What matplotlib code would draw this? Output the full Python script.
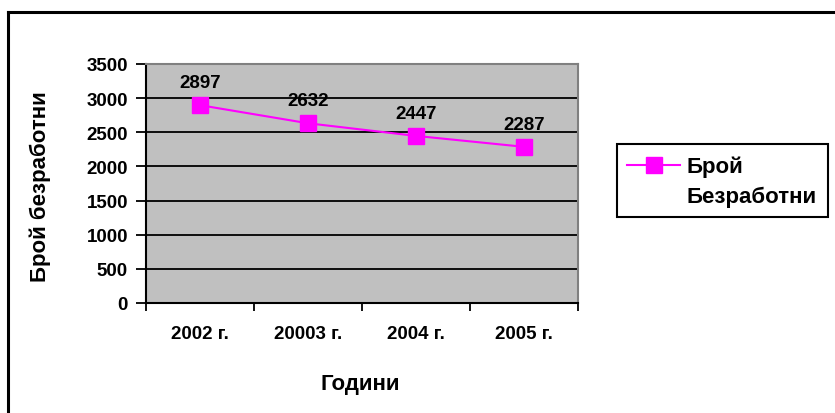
import matplotlib
matplotlib.use("Agg")
import matplotlib.pyplot as plt
from matplotlib.lines import Line2D
from matplotlib.patches import Rectangle

plt.rcParams['font.family'] = ['Liberation Sans', 'DejaVu Sans']

categories = ["2002 г.", "20003 г.", "2004 г.", "2005 г."]
values = [2897, 2632, 2447, 2287]
yticks = [0, 500, 1000, 1500, 2000, 2500, 3000, 3500]
series_name = ["Брой", "Безработни"]

W, H = 835, 414
fig = plt.figure(figsize=(W / 100, H / 100), dpi=100)

def fx(px):
    return px / W

def fy(py):
    return 1 - py / H

# outer border (left and top visible)
fig.add_artist(Line2D([fx(8), fx(8)], [0, fy(13)], color='black', lw=2.2))
fig.add_artist(Line2D([fx(8), 1], [fy(13), fy(13)], color='black', lw=2.2))

x0, x1 = 146, 578
y0, y1 = 65, 304
ax = fig.add_axes([fx(x0), fy(y1), (x1 - x0) / W, (y1 - y0) / H])
ax.set_facecolor('#c0c0c0')

TICK_FS = 13.5
xs = list(range(len(categories)))
ax.plot(xs, values, color='#ff00ff', lw=1.5, marker='s', markersize=11,
        markerfacecolor='#ff00ff', markeredgecolor='#ff00ff', zorder=3)
for x, v in zip(xs, values):
    ax.annotate(str(v), (x, v), xytext=(0, 10), textcoords='offset points',
                ha='center', va='bottom', fontsize=TICK_FS, fontweight='bold')

ax.set_xlim(-0.5, len(categories) - 0.5)
ax.set_ylim(0, 3500)
ax.set_yticks(yticks)
ax.set_yticklabels([str(t) for t in yticks], fontsize=TICK_FS, fontweight='bold')
for t in yticks[1:-1]:
    ax.axhline(t, color='black', lw=1.3, zorder=1)

ax.set_xticks(xs)
ax.set_xticklabels(categories, fontsize=TICK_FS, fontweight='bold')
ax.tick_params(axis='x', length=0, pad=16)
ax.set_xticks([i - 0.5 for i in range(len(categories) + 1)], minor=True)
ax.tick_params(axis='x', which='minor', length=6, width=1.3, direction='out')
ax.tick_params(axis='y', length=7, width=1.3, direction='out', pad=6)

for s in ['left', 'bottom']:
    ax.spines[s].set_color('black')
    ax.spines[s].set_linewidth(1.5)
for s in ['top', 'right']:
    ax.spines[s].set_color('#808080')
    ax.spines[s].set_linewidth(1.5)

fig.text(fx(40), fy(187), "Брой безработни", rotation=90, ha='center',
         va='center', fontsize=16, fontweight='bold')
fig.text(fx(360), fy(385), "Години", ha='center', va='center',
         fontsize=16, fontweight='bold')

# legend drawn manually (Excel-style, handle aligned with first text line)
fig.add_artist(Rectangle((fx(617), fy(218)), (828 - 617) / W, (218 - 145) / H,
                         transform=fig.transFigure, facecolor='white',
                         edgecolor='black', lw=1.5))
fig.add_artist(Line2D([fx(627), fx(680)], [fy(166), fy(166)], color='#ff00ff',
                      lw=1.5))
fig.add_artist(Line2D([fx(653.5)], [fy(166)], color='#ff00ff', marker='s',
                      markersize=11, markerfacecolor='#ff00ff',
                      markeredgecolor='#ff00ff'))
fig.text(fx(686), fy(167), series_name[0], ha='left', va='center',
         fontsize=16, fontweight='bold')
fig.text(fx(686), fy(197), series_name[1], ha='left', va='center',
         fontsize=16, fontweight='bold')

fig.savefig("out.png", dpi=100, facecolor='white')
